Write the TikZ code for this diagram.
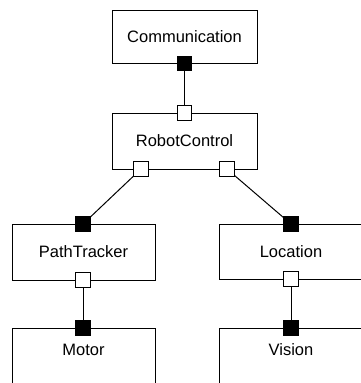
\documentclass[tikz,border=0pt]{standalone}
\usepackage{fontspec}
\setmainfont{Liberation Sans}
\begin{document}
\begin{tikzpicture}[x=1pt,y=-1pt,
  box/.style={draw=black,line width=1pt,fill=white,inner sep=0pt},
  txt/.style={font=\fontsize{16.5}{19}\selectfont},
  lbl/.style={inner sep=0pt,txt},
  wport/.style={draw=black,line width=1pt,fill=white,minimum size=14.5pt,inner sep=0pt},
  bport/.style={draw=black,line width=1pt,fill=black,minimum size=14.5pt,inner sep=0pt},
  link/.style={draw=black,line width=1pt}]
\useasboundingbox (0,0) rectangle (361,383);
\clip (0,0) rectangle (361,383);
% boxes
\node[box,txt,minimum width=145pt,minimum height=53pt] (comm) at (184.5,36.5) {Communication};
\node[box,txt,minimum width=145pt,minimum height=56pt] (rc) at (184.5,141) {RobotControl};
\node[box,txt,minimum width=143pt,minimum height=56pt] (pt) at (83.5,252) {PathTracker};
\node[box,txt,minimum width=144pt,minimum height=55pt] (loc) at (291,251.5) {Location};
\node[box,minimum width=143pt,minimum height=80pt] (motor) at (83.5,368) {};
\node[lbl] (motorlbl) at (83.5,350) {Motor};
\node[box,minimum width=144pt,minimum height=80pt] (vision) at (291,368) {};
\node[lbl] (visionlbl) at (291,350) {Vision};
% ports
\node[bport] (c1) at (184.5,63.5) {};
\node[wport] (r0) at (184.5,113) {};
\node[wport] (r1) at (141,169) {};
\node[wport] (r2) at (227,169) {};
\node[bport] (p0) at (83,224) {};
\node[bport] (l0) at (291,224) {};
\node[wport] (p1) at (83,280) {};
\node[wport] (l1) at (291,279) {};
\node[bport] (m0) at (83,328) {};
\node[bport] (v0) at (291,328) {};
% links
\draw[link] (c1) -- (r0);
\draw[link] (r1) -- (p0);
\draw[link] (r2) -- (l0);
\draw[link] (p1) -- (m0);
\draw[link] (l1) -- (v0);
\end{tikzpicture}
\end{document}
